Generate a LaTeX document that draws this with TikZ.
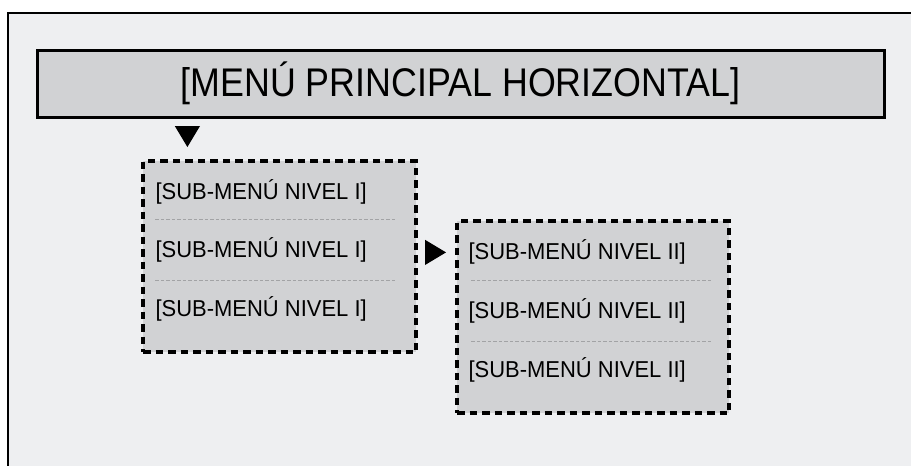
\documentclass[tikz,border=0pt]{standalone}
\usepackage{fontspec}
\setmainfont{Liberation Sans}
\usepackage{tikz}
\usetikzlibrary{calc,shapes.geometric}

\definecolor{fondo}{HTML}{EEEFF1}
\definecolor{caja}{HTML}{D1D2D4}
\definecolor{raya}{HTML}{A2A3A5}

\newcommand{\itemsub}[1]{\scalebox{0.955}[1]{\fontsize{23}{23}\selectfont #1}}

\tikzset{
  menubox/.style={draw=black,line width=3pt,fill=caja,inner sep=0pt},
  subbox/.style={draw=black,line width=3.2pt,fill=caja,inner sep=0pt,
      dash pattern=on 7.5pt off 5pt},
  subitem/.style={anchor=west,inner sep=0pt,text=black},
  separador/.style={draw=raya,line width=0.9pt,dash pattern=on 3.5pt off 2pt},
  marca/.style={fill=black,draw=none,shape=isosceles triangle,
      isosceles triangle apex angle=62,inner sep=0pt,minimum height=21pt}
}

\begin{document}
\begin{tikzpicture}[x=1pt,y=-1pt]
  \useasboundingbox (0,0) rectangle (911,466);
  \clip (0,0) rectangle (911,466);
  \fill [white] (0,0) rectangle (911,466);
  \draw [fill=fondo,line width=2.6pt] (8,13) rectangle (930,490);

  \node [menubox,minimum width=847pt,minimum height=67pt] (principal)
      at (460.5,83.5) {\scalebox{0.895}[1]{\fontsize{40}{40}\selectfont [MENÚ PRINCIPAL HORIZONTAL]}};

  \node [subbox,minimum width=273pt,minimum height=191pt] (nivel1) at (279.5,256.5) {};
  \node [subbox,minimum width=272pt,minimum height=192pt] (nivel2) at (593,317) {};

  \coordinate (a1) at ($(nivel1.north west)+(14,0)$);
  \coordinate (a2) at ($(nivel2.north west)+(13,0)$);

  \node [subitem] (s11) at ($(a1)+(0,33)$) {\itemsub{[SUB-MENÚ NIVEL I]}};
  \node [subitem] (s12) at ($(a1)+(0,91)$) {\itemsub{[SUB-MENÚ NIVEL I]}};
  \node [subitem] (s13) at ($(a1)+(0,150)$) {\itemsub{[SUB-MENÚ NIVEL I]}};

  \node [subitem] (s21) at ($(a2)+(0,33)$) {\itemsub{[SUB-MENÚ NIVEL II]}};
  \node [subitem] (s22) at ($(a2)+(0,92)$) {\itemsub{[SUB-MENÚ NIVEL II]}};
  \node [subitem] (s23) at ($(a2)+(0,151)$) {\itemsub{[SUB-MENÚ NIVEL II]}};

  \draw [separador] ($(a1)+(0,60)$) -- ++(240,0);
  \draw [separador] ($(a1)+(0,121)$) -- ++(240,0);
  \draw [separador] ($(a2)+(3,61)$) -- ++(240,0);
  \draw [separador] ($(a2)+(3,122)$) -- ++(240,0);

  \node [marca,shape border rotate=-90,anchor=apex] (flecha1)
      at ($(nivel1.north west)+(46,-12)$) {};
  \node [marca,shape border rotate=0,anchor=apex] (flecha2)
      at ($(nivel2.west |- s21)+(-9,0)$) {};
\end{tikzpicture}
\end{document}
